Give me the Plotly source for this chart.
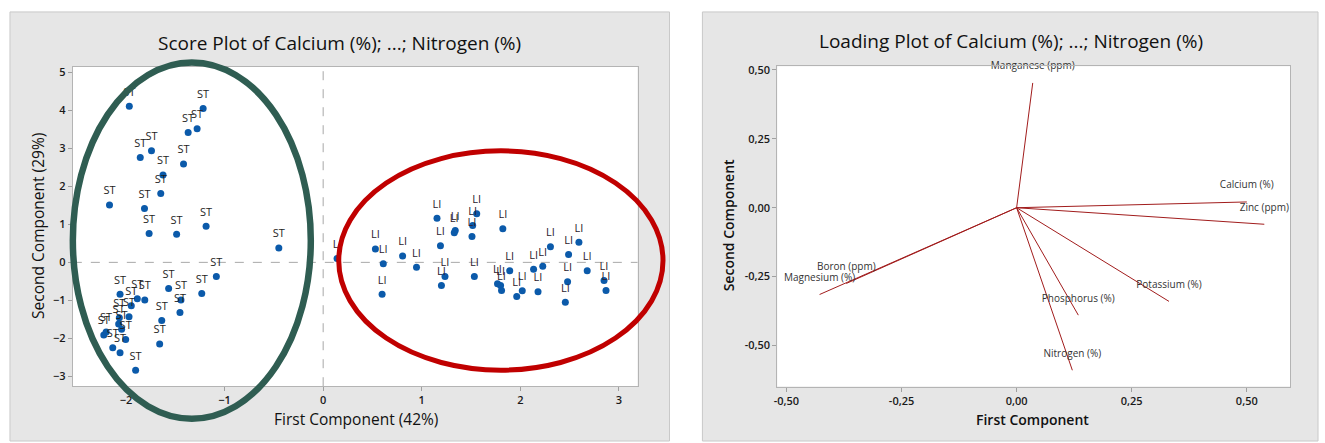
import plotly.graph_objects as go

# ---- Score plot data (PC1, PC2) ----
st_pc1 = [-1.967, -1.218, -1.279, -1.370, -1.742, -1.856, -1.417, -1.625, -1.648, -2.168,
          -1.813, -1.188, -1.766, -1.487, -0.450, -1.084, -1.568, -1.232, -2.061, -1.886,
          -1.810, -1.443, -1.947, -1.453, -1.970, -2.068, -2.075, -2.045, -1.638, -2.202,
          -2.226, -2.004, -1.659, -2.135, -2.061, -1.903]
st_pc2 = [4.11, 4.05, 3.52, 3.42, 2.94, 2.76, 2.59, 2.30, 1.81, 1.51,
          1.42, 0.95, 0.76, 0.74, 0.38, -0.37, -0.69, -0.82, -0.84, -0.96,
          -0.99, -0.99, -1.14, -1.32, -1.43, -1.46, -1.62, -1.76, -1.53, -1.83,
          -1.91, -2.03, -2.15, -2.25, -2.38, -2.84]

li_pc1 = [0.141, 1.155, 1.558, 1.340, 1.330, 1.517, 1.823, 1.510, 1.190, 0.530,
          0.610, 0.806, 0.947, 0.598, 1.236, 1.200, 1.534, 1.893, 1.769, 1.800,
          1.810, 1.964, 2.020, 2.180, 2.135, 2.228, 2.306, 2.490, 2.595, 2.480,
          2.457, 2.679, 2.850, 2.870]
li_pc2 = [0.10, 1.16, 1.28, 0.84, 0.78, 0.97, 0.885, 0.68, 0.44, 0.35,
          -0.035, 0.17, -0.13, -0.84, -0.37, -0.61, -0.37, -0.22, -0.56, -0.61,
          -0.74, -0.90, -0.75, -0.77, -0.18, -0.10, 0.41, 0.21, 0.53, -0.51,
          -1.05, -0.22, -0.48, -0.74]

st_label = "ST"
li_label = "LI"

score_xticks = [-2, -1, 0, 1, 2, 3]
score_yticks = [-3, -2, -1, 0, 1, 2, 3, 4, 5]

# ---- Loading plot data ----
variables = ["Manganese (ppm)", "Calcium (%)", "Zinc (ppm)", "Potassium (%)",
             "Phosphorus (%)", "Nitrogen (%)", "Boron (ppm)", "Magnesium (%)"]
load_pc1 = [0.035, 0.500, 0.538, 0.331, 0.134, 0.121, -0.370, -0.428]
load_pc2 = [0.453, 0.021, -0.060, -0.340, -0.390, -0.590, -0.275, -0.315]

load_ticks = [-0.50, -0.25, 0.00, 0.25, 0.50]
load_ticktext = ["-0,50", "-0,25", "0,00", "0,25", "0,50"]

W, H = 1325, 443
FONT = "Open Sans"
DOT = "#0B5AAA"


def px(x):
    return x / W


def py(y):
    return 1 - y / H


fig = go.Figure()

# score points (dots), then their group labels lifted by a wider invisible marker
for xs, ys in ((st_pc1, st_pc2), (li_pc1, li_pc2)):
    fig.add_trace(go.Scatter(
        x=xs, y=ys, mode="markers", marker=dict(color=DOT, size=7),
        xaxis="x", yaxis="y", showlegend=False, cliponaxis=False))
for xs, ys, lab, col in ((st_pc1, st_pc2, st_label, "#1e1e1e"),
                         (li_pc1, li_pc2, li_label, "#2b1a2e")):
    fig.add_trace(go.Scatter(
        x=xs, y=ys, mode="markers+text", text=[lab] * len(xs),
        textposition="top center", textfont=dict(family=FONT, size=11, color=col),
        marker=dict(size=11, color="rgba(0,0,0,0)"), xaxis="x", yaxis="y",
        showlegend=False, cliponaxis=False, hoverinfo="skip"))

# loading vectors from the origin
for name, lx, ly in zip(variables, load_pc1, load_pc2):
    fig.add_trace(go.Scatter(
        x=[0, lx], y=[0, ly], mode="lines", line=dict(color="#A11C1C", width=1),
        xaxis="x2", yaxis="y2", showlegend=False, hoverinfo="skip"))
fig.add_trace(go.Scatter(
    x=load_pc1, y=load_pc2, mode="markers+text", text=variables, textposition="top center",
    textfont=dict(family=FONT, size=10, color="#333333"),
    marker=dict(size=16, color="rgba(0,0,0,0)"),
    xaxis="x2", yaxis="y2", showlegend=False, cliponaxis=False))

axis_common = dict(showgrid=False, zeroline=False, showline=True, mirror=True,
                   linecolor="#B4B4B4", linewidth=1, ticks="outside", ticklen=4,
                   tickcolor="#A0A0A0",
                   tickfont=dict(family=FONT, size=11, color="#1a1a1a", weight=600))

fig.update_layout(
    width=W, height=H, margin=dict(l=0, r=0, t=0, b=0),
    paper_bgcolor="white", plot_bgcolor="white",
    xaxis=dict(domain=[px(70), px(636)], range=[-2.54, 3.19], tickvals=score_xticks,
               anchor="y", **axis_common),
    yaxis=dict(domain=[py(385.7), py(63.3)], range=[-3.26, 5.15], tickvals=score_yticks,
               anchor="x", **axis_common),
    xaxis2=dict(domain=[px(776), px(1290)], range=[-0.52, 0.594], tickvals=load_ticks,
                ticktext=load_ticktext, anchor="y2", **axis_common),
    yaxis2=dict(domain=[py(386), py(62.7)], range=[-0.649, 0.514], tickvals=load_ticks,
                ticktext=load_ticktext, anchor="x2", **axis_common),
)

shapes = [
    # grey panels behind each chart
    dict(type="rect", xref="paper", yref="paper", x0=px(7), x1=px(668), y0=py(441), y1=py(8),
         fillcolor="#E6E6E6", line=dict(color="#C9C9C9", width=1), layer="below"),
    dict(type="rect", xref="paper", yref="paper", x0=px(701), x1=px(1318), y0=py(441), y1=py(8),
         fillcolor="#E6E6E6", line=dict(color="#C9C9C9", width=1), layer="below"),
    # white plotting areas
    dict(type="rect", xref="paper", yref="paper", x0=px(70), x1=px(636), y0=py(385.7), y1=py(63.3),
         fillcolor="white", line=dict(width=0), layer="below"),
    dict(type="rect", xref="paper", yref="paper", x0=px(776), x1=px(1290), y0=py(386), y1=py(62.7),
         fillcolor="white", line=dict(width=0), layer="below"),
    # dashed reference lines through the origin of the score plot
    dict(type="line", xref="x", yref="y domain", x0=0, x1=0, y0=0, y1=1,
         line=dict(color="#A8A8A8", width=1, dash="dash"), layer="below"),
    dict(type="line", xref="x domain", yref="y", x0=0, x1=1, y0=0, y1=0,
         line=dict(color="#A8A8A8", width=1, dash="dash"), layer="below"),
    # group ellipses
    dict(type="circle", xref="paper", yref="paper", x0=px(70), x1=px(308.5),
         y0=py(418.5), y1=py(59), line=dict(color="#2F5D52", width=6.5), layer="above"),
    dict(type="circle", xref="paper", yref="paper", x0=px(336.5), x1=px(661.5),
         y0=py(369.5), y1=py(148.2), line=dict(color="#C00000", width=5), layer="above"),
]
fig.update_layout(shapes=shapes)

title_font = dict(family=FONT, size=19, color="#111111")
label_font = dict(family=FONT, size=15.5, color="#111111")
bold_label_font = dict(family=FONT, size=14, color="#111111", weight=600)

annotations = [
    dict(text="Score Plot of Calcium (%); ...; Nitrogen (%)", x=px(337), y=py(39),
         font=title_font),
    dict(text="First Component (42%)", x=px(354), y=py(419), font=label_font),
    dict(text="Second Component (29%)", x=px(35), y=py(224), textangle=-90, font=label_font),
    dict(text="Loading Plot of Calcium (%); ...; Nitrogen (%)", x=px(1010), y=py(37),
         font=title_font),
    dict(text="First Component", x=px(1032), y=py(419), font=bold_label_font),
    dict(text="Second Component", x=px(728), y=py(223), textangle=-90, font=bold_label_font),
]
for a in annotations:
    a.update(xref="paper", yref="paper", showarrow=False, xanchor="center", yanchor="middle")
fig.update_layout(annotations=annotations)

fig.write_html("out.html")
